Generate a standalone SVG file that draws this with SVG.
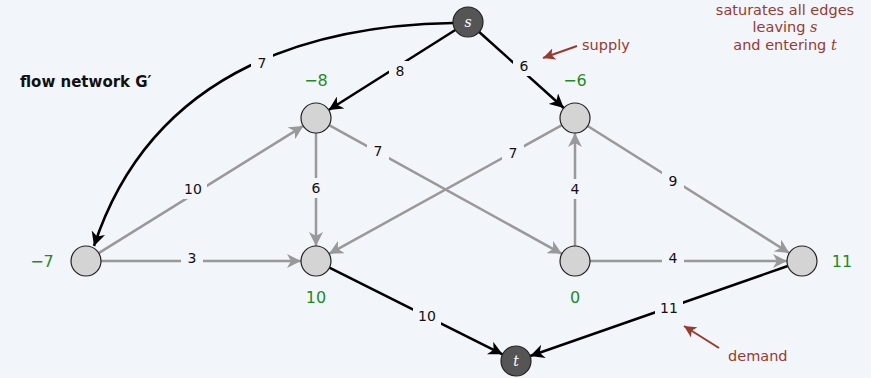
<svg xmlns="http://www.w3.org/2000/svg" width="871" height="378" viewBox="0 0 871 378">
<style>
.bg{fill:#f2f5f9}
.e{fill:none;stroke-width:2.5}
.blk{stroke:#000}
.gry{stroke:#999}
.n{fill:#d4d4d4;stroke:#222;stroke-width:1.2}
.d{fill:#555;stroke:#222;stroke-width:1.2}
.lb{font-family:"DejaVu Sans",sans-serif;font-size:14px;fill:#111;text-anchor:middle;dominant-baseline:central}
.lbg{fill:#f2f5f9}
.g{font-family:"DejaVu Sans",sans-serif;font-size:16px;fill:#1e8c1e;text-anchor:middle;dominant-baseline:central}
.r{font-family:"DejaVu Sans",sans-serif;font-size:14.5px;fill:#993a30;text-anchor:middle}
.it{font-family:"DejaVu Serif",serif;font-style:italic}
.ann{stroke:#993a30;stroke-width:2;fill:none}
</style>
<defs>
<marker id="ab" markerUnits="userSpaceOnUse" markerWidth="16" markerHeight="14" refX="14" refY="7" orient="auto"><path d="M0,0 L14,7 L0,14 L4,7 Z" fill="#000"/></marker>
<marker id="ag" markerUnits="userSpaceOnUse" markerWidth="16" markerHeight="14" refX="14" refY="7" orient="auto"><path d="M0,0 L14,7 L0,14 L4,7 Z" fill="#999"/></marker>
<marker id="ar" markerUnits="userSpaceOnUse" markerWidth="14" markerHeight="12" refX="12" refY="6" orient="auto"><path d="M0,0 L12,6 L0,12 L3,6 Z" fill="#993a30"/></marker>
</defs>
<rect class="bg" x="0" y="0" width="871" height="378"/>
<g id="connectors">
<path class="e blk" d="M453,23 C330,25 155,60 94,246" marker-end="url(#ab)"/>
<line class="e blk" x1="455.3" y1="30" x2="328.7" y2="110" marker-end="url(#ab)"/>
<line class="e blk" x1="479.2" y1="32" x2="563.8" y2="108" marker-end="url(#ab)"/>
<line class="e gry" x1="98.7" y1="253.1" x2="303.3" y2="125.9" marker-end="url(#ag)"/>
<line class="e gry" x1="101" y1="261" x2="301" y2="261" marker-end="url(#ag)"/>
<line class="e gry" x1="316" y1="133" x2="316" y2="246" marker-end="url(#ag)"/>
<line class="e gry" x1="329.1" y1="125.2" x2="561.9" y2="253.8" marker-end="url(#ag)"/>
<line class="e gry" x1="561.9" y1="125.2" x2="329.1" y2="253.8" marker-end="url(#ag)"/>
<line class="e gry" x1="575" y1="246" x2="575" y2="133" marker-end="url(#ag)"/>
<line class="e gry" x1="587.7" y1="126" x2="789.3" y2="253" marker-end="url(#ag)"/>
<line class="e gry" x1="590" y1="261" x2="787" y2="261" marker-end="url(#ag)"/>
<line class="e blk" x1="329.4" y1="267.7" x2="502.6" y2="354.3" marker-end="url(#ab)"/>
<line class="e blk" x1="787.8" y1="266" x2="530.2" y2="356" marker-end="url(#ab)"/>
<g id="edge-labels">
<rect class="lbg" x="251" y="53" width="22" height="20"/><text class="lb" x="262" y="63">7</text>
<rect class="lbg" x="389" y="61" width="22" height="20"/><text class="lb" x="400" y="71">8</text>
<rect class="lbg" x="513" y="56" width="22" height="20"/><text class="lb" x="524" y="66">6</text>
<rect class="lbg" x="179" y="179" width="28" height="20"/><text class="lb" x="193" y="189">10</text>
<rect class="lbg" x="181" y="248" width="22" height="20"/><text class="lb" x="192" y="258">3</text>
<rect class="lbg" x="305" y="178" width="22" height="20"/><text class="lb" x="316" y="188">6</text>
<rect class="lbg" x="367" y="141" width="22" height="20"/><text class="lb" x="378" y="151">7</text>
<rect class="lbg" x="502" y="143" width="22" height="20"/><text class="lb" x="513" y="153">7</text>
<rect class="lbg" x="564" y="179" width="22" height="20"/><text class="lb" x="575" y="189">4</text>
<rect class="lbg" x="662" y="171" width="22" height="20"/><text class="lb" x="673" y="181">9</text>
<rect class="lbg" x="662" y="248" width="22" height="20"/><text class="lb" x="673" y="258">4</text>
<rect class="lbg" x="413" y="306" width="28" height="20"/><text class="lb" x="427" y="316">10</text>
<rect class="lbg" x="655" y="298" width="28" height="20"/><text class="lb" x="669" y="308">11</text>
</g>
</g>
<g id="node-s"><circle class="d" cx="468" cy="22" r="15"/><text class="it" x="468" y="27" font-size="14" fill="#fff" text-anchor="middle">s</text></g>
<g id="node-t"><circle class="d" cx="516" cy="361" r="15"/><text class="it" x="516" y="366" font-size="14" fill="#fff" text-anchor="middle">t</text></g>
<g id="node-a"><circle class="n" cx="316" cy="118" r="15"/><text class="g" x="316" y="80">−8</text></g>
<g id="node-b"><circle class="n" cx="575" cy="118" r="15"/><text class="g" x="575" y="80">−6</text></g>
<g id="node-c"><circle class="n" cx="86" cy="261" r="15"/><text class="g" x="42" y="261">−7</text></g>
<g id="node-d"><circle class="n" cx="316" cy="261" r="15"/><text class="g" x="316" y="297">10</text></g>
<g id="node-e"><circle class="n" cx="575" cy="261" r="15"/><text class="g" x="575" y="297">0</text></g>
<g id="node-f"><circle class="n" cx="802" cy="261" r="15"/><text class="g" x="842" y="261">11</text></g>
<g id="annotations">
<text x="20" y="87" font-family="DejaVu Sans,sans-serif" font-weight="bold" font-size="15" fill="#111">flow network G′</text>
<text class="r" x="582" y="50" text-anchor="start" style="text-anchor:start">supply</text>
<line class="ann" x1="577" y1="46" x2="543" y2="58" marker-end="url(#ar)"/>
<text class="r" x="728" y="361" style="text-anchor:start">demand</text>
<line class="ann" x1="719" y1="348" x2="684" y2="326" marker-end="url(#ar)"/>
<text class="r" x="785" y="15">saturates all edges</text>
<text class="r" x="785" y="32">leaving <tspan class="it">s</tspan></text>
<text class="r" x="785" y="50">and entering <tspan class="it">t</tspan></text>
</g>
</svg>
